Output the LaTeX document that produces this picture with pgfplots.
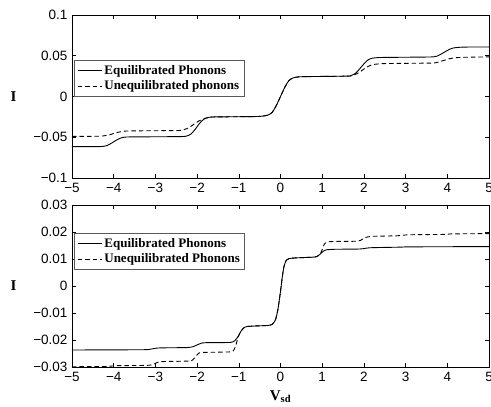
\documentclass[border=0pt]{standalone}
\usepackage{fontspec}
\setmainfont{Liberation Serif}
\setsansfont{Liberation Sans}
\usepackage{pgfplots}
\pgfplotsset{compat=1.18}

\pgfplotsset{
  iv/.style={
    scale only axis,
    width=417pt,
    xmin=-5, xmax=5,
    xtick={-5,-4,-3,-2,-1,0,1,2,3,4,5},
    xticklabels={−5,−4,−3,−2,−1,0,1,2,3,4,5},
    scaled y ticks=false,
    tick align=inside,
    major tick length=4pt,
    tick style={black, line width=0.6pt},
    axis line style={line width=0.7pt},
    ticklabel style={font=\fontsize{13.5}{15}\sffamily},
    xticklabel style={yshift=-1.5pt},
    yticklabel style={xshift=-1pt},
    /pgf/number format/assume math mode=true,
    ylabel={\fontsize{15}{17}\selectfont\bfseries I},
    ylabel style={rotate=-90, at={(axis description cs:-0.14,0.5)}, anchor=center},
    legend cell align=left,
    legend style={font=\fontsize{13}{15}\selectfont\bfseries, draw=black!65,
      line width=0.8pt, inner xsep=3pt, inner ysep=3pt, row sep=1pt},
    legend image code/.code={\draw[#1, line width=0.9pt] (0pt,0pt) -- (24pt,0pt);},
  },
  eq/.style={black, line width=0.9pt, smooth, tension=0.35},
  uq/.style={black, line width=0.9pt, smooth, tension=0.35, dash pattern=on 4.5pt off 3pt},
}

\begin{document}
\begin{tikzpicture}
\begin{axis}[iv, name=top,
    at={(0,0)}, anchor=south west,
    height=163pt,
    ymin=-0.1, ymax=0.1,
    ytick={-0.1,-0.05,0,0.05,0.1},
    yticklabels={−0.1,−0.05,0,0.05,0.1},
    legend style={at={(axis description cs:0.005,0.724)}, anchor=north west},
]
\addplot[eq] coordinates {
(-5,-0.0615) (-4.4,-0.0615) (-4.25,-0.0612) (-4.15,-0.0600) (-4.05,-0.0572)
(-3.95,-0.0540) (-3.85,-0.0513) (-3.75,-0.0500) (-3.6,-0.0496) (-2.4,-0.0492)
(-2.25,-0.0485) (-2.15,-0.0462) (-2.05,-0.0405) (-1.95,-0.0335) (-1.85,-0.0283)
(-1.75,-0.0260) (-1.6,-0.0251) (-0.6,-0.0246) (-0.42,-0.0240) (-0.3,-0.0228)
(-0.2,-0.0195) (-0.1,-0.0110) (0,0) (0.1,0.0110) (0.2,0.0195) (0.3,0.0228)
(0.42,0.0240) (0.6,0.0244) (1.6,0.0250) (1.7,0.0258) (1.8,0.0285) (1.9,0.0340)
(2.0,0.0400) (2.1,0.0450) (2.2,0.0470) (2.35,0.0478) (2.6,0.0480) (3.6,0.0485)
(3.75,0.0495) (3.85,0.0520) (3.95,0.0550) (4.05,0.0578) (4.15,0.0596)
(4.3,0.0604) (4.5,0.0607) (5,0.0608)
};
\addlegendentry{Equilibrated Phonons}
\addplot[uq] coordinates {
(-5,-0.0490) (-4.4,-0.0488) (-4.25,-0.0484) (-4.1,-0.0470) (-3.95,-0.0446)
(-3.8,-0.0429) (-3.6,-0.0422) (-2.5,-0.0418) (-2.35,-0.0411) (-2.2,-0.0385)
(-2.05,-0.0330) (-1.9,-0.0285) (-1.75,-0.0260) (-1.6,-0.0251) (-0.6,-0.0246)
(-0.42,-0.0240) (-0.3,-0.0228) (-0.2,-0.0195) (-0.1,-0.0110) (0,0)
(0.1,0.0110) (0.2,0.0195) (0.3,0.0228) (0.42,0.0240) (0.6,0.0244)
(1.6,0.0250) (1.75,0.0262) (1.9,0.0300) (2.05,0.0355) (2.2,0.0390)
(2.4,0.0402) (2.6,0.0405) (3.6,0.0410) (3.75,0.0418) (3.9,0.0440)
(4.05,0.0463) (4.2,0.0476) (4.4,0.0481) (5,0.0486)
};
\addlegendentry{Unequilibrated phonons}
\end{axis}

\begin{axis}[iv, name=bot,
    at={(0,-189pt)}, anchor=south west,
    height=162pt,
    ymin=-0.03, ymax=0.03,
    ytick={-0.03,-0.02,-0.01,0,0.01,0.02,0.03},
    yticklabels={−0.03,−0.02,−0.01,0,0.01,0.02,0.03},
    xlabel={\fontsize{15}{17}\selectfont\bfseries V\textsubscript{sd}},
    xlabel style={at={(axis description cs:0.5,-0.185)}, anchor=center},
    legend style={at={(axis description cs:0.005,0.827)}, anchor=north west},
]
\addplot[eq] coordinates {
(-5,-0.0237) (-3.3,-0.0236) (-3.12,-0.0234) (-2.97,-0.0230) (-2.8,-0.0229)
(-2.25,-0.0228) (-2.1,-0.0225) (-2.0,-0.0218) (-1.9,-0.0212) (-1.8,-0.0210)
(-1.2,-0.0209) (-1.1,-0.0203) (-1.02,-0.0188) (-0.95,-0.0168) (-0.88,-0.0155)
(-0.8,-0.0150) (-0.6,-0.0148) (-0.3,-0.0146) (-0.2,-0.0142) (-0.12,-0.0125)
(-0.06,-0.0085) (0,-0.0020) (0.04,0.0030) (0.08,0.0070) (0.13,0.0093)
(0.2,0.0101) (0.35,0.0104) (0.8,0.0107) (0.88,0.0110) (0.95,0.0118)
(1.02,0.0128) (1.1,0.0134) (1.3,0.0136) (1.9,0.0137) (2.05,0.0140)
(2.2,0.0142) (2.9,0.0144) (3.1,0.0145) (5,0.0146)
};
\addlegendentry{Equilibrated Phonons}
\addplot[uq] coordinates {
(-5,-0.0299) (-4.2,-0.0298) (-3.9,-0.0295) (-3.2,-0.0294) (-3.05,-0.0290)
(-2.95,-0.0283) (-2.85,-0.0280) (-2.2,-0.0278) (-2.1,-0.0273) (-2.02,-0.0258)
(-1.95,-0.0248) (-1.85,-0.0246) (-1.2,-0.0244) (-1.12,-0.0237) (-1.07,-0.0220)
(-1.02,-0.0190) (-0.95,-0.0168) (-0.88,-0.0155) (-0.8,-0.0150) (-0.6,-0.0148)
(-0.3,-0.0146) (-0.2,-0.0142) (-0.12,-0.0125) (-0.06,-0.0085) (0,-0.0020)
(0.04,0.0030) (0.08,0.0070) (0.13,0.0093) (0.2,0.0101) (0.35,0.0104)
(0.8,0.0107) (0.88,0.0110) (0.95,0.0118) (1.0,0.0135) (1.05,0.0155)
(1.12,0.0163) (1.3,0.0165) (1.85,0.0166) (1.95,0.0172) (2.05,0.0180)
(2.2,0.0184) (2.8,0.0186) (3.0,0.0189) (3.2,0.0190) (3.9,0.0191)
(4.1,0.0193) (5,0.0194)
};
\addlegendentry{Unequilibrated Phonons}
\end{axis}

\pgfresetboundingbox
\path[use as bounding box] (-72pt,-229pt) rectangle (419pt,178pt);
\end{tikzpicture}
\end{document}
